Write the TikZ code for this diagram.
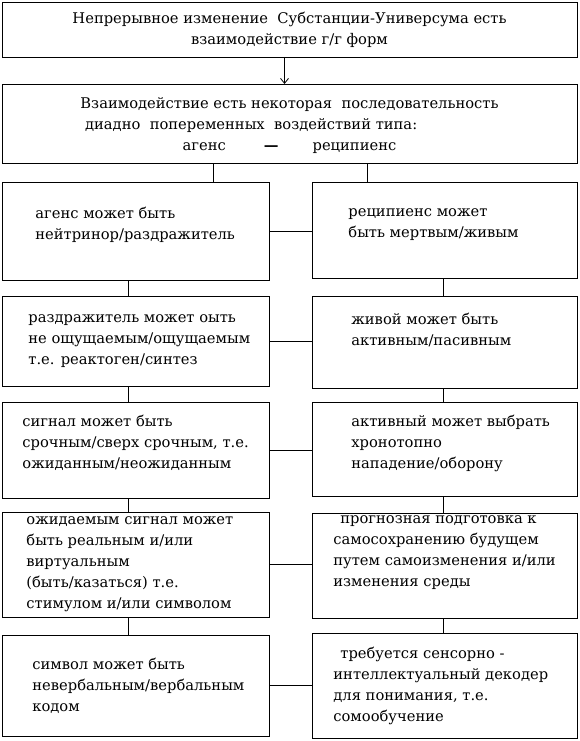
\documentclass[tikz,border=0pt]{standalone}
\usepackage{fontspec}
\setmainfont{DejaVu Serif}
\newfontfamily\boxserif{DejaVu Serif}
\usetikzlibrary{arrows.meta,positioning,calc}
\newcommand{\boxfont}{\boxserif\fontsize{14.7}{21}\selectfont}
\tikzset{
  every picture/.style={line width=0.8pt},
  box/.style={draw,rectangle,anchor=north west,inner sep=0pt,outer sep=0pt},
  lbox/.style={box,minimum width=267pt},
  rbox/.style={box,minimum width=265pt},
  txt/.style={align=left,inner sep=0pt,anchor=west},
}

\begin{document}
\begin{tikzpicture}[x=1pt,y=-1pt,every node/.style={font=\boxfont}]
  \useasboundingbox (0,0) rectangle (580,741);
  \node[box,minimum width=575pt,minimum height=55pt,align=center] (top) at (2,2)
    {Непрерывное изменение~ Субстанции-Универсума есть\\взаимодействие г/г форм};
  \node[box,minimum width=575pt,minimum height=79pt,align=center] (inter) at (2,84)
    {\begin{tabular}[b]{@{}l@{}}Взаимодействие есть некоторая~ последовательность\\
      \ диадно~ попеременных~ воздействий типа:\end{tabular}\\
      агенс\hspace{38pt}\textbf{—}\hspace{34pt}реципиенс};
  \node[lbox,minimum height=98pt] (a1) at (2,182) {};
  \node[rbox,minimum height=96pt] (b1) at (312,182) {};
  \node[lbox,minimum height=90pt] (a2) at (2,296) {};
  \node[rbox,minimum height=92pt] (b2) at (312,296) {};
  \node[lbox,minimum height=96pt] (a3) at (2,402) {};
  \node[rbox,minimum height=94pt] (b3) at (312,402) {};
  \node[lbox,minimum height=105pt] (a4) at (2,512) {};
  \node[rbox,minimum height=105pt] (b4) at (312,513) {};
  \node[lbox,minimum height=101pt] (a5) at (2,635) {};
  \node[rbox,minimum height=105pt] (b5) at (312,633) {};
  \node[txt,right=33pt of a1.west,yshift=6pt] (ta1) {агенс может быть\\нейтринор/раздражитель};
  \node[txt,right=36pt of b1.west,yshift=5pt] (tb1) {реципиенс может\\быть мертвым/живым};
  \node[txt,right=26pt of a2.west] (ta2)
    {раздражитель может оыть\\не ощущаемым/ощущаемым\\т.е. реактоген/синтез};
  \node[txt,right=39pt of b2.west,yshift=12pt] (tb2) {живой может быть\\активным/пасивным};
  \node[txt,right=20pt of a3.west,yshift=7pt] (ta3)
    {сигнал может быть\\срочным/сверх срочным, т.е.\\ожиданным/неожиданным};
  \node[txt,right=39pt of b3.west,yshift=6pt] (tb3)
    {активный может выбрать\\хронотопно\\нападение/оборону};
  \node[txt,right=24pt of a4.west] (ta4)
    {ожидаемым сигнал может\\быть реальным и/или\\виртуальным\\(быть/казаться) т.е.\\стимулом и/или символом};
  \node[txt,right=21pt of b4.west,yshift=13pt] (tb4)
    {\hspace*{7pt}прогнозная подготовка к\\самосохранению будущем\\путем самоизменения и/или\\изменения среды};
  \node[txt,right=30pt of a5.west] (ta5)
    {символ может быть\\невербальным/вербальным\\кодом};
  \node[txt,right=21pt of b5.west] (tb5)
    {\hspace*{7pt}требуется сенсорно -\\интеллектуальный декодер\\для понимания, т.е.\\сомообучение};
  \coordinate (ja) at (213,0);
  \coordinate (jb) at (367,0);
  \coordinate (jl) at (128,0);
  \coordinate (jr) at (443,0);
  \draw[-{Straight Barb[length=5pt,width=8pt]}] ($(top.south)+(-5,0)$) -- ($(inter.north)+(-5,0)$);
  \draw (inter.south -| ja) -- (a1.north -| ja);
  \draw (inter.south -| jb) -- (b1.north -| jb);
  \foreach \i/\j in {1/2,2/3,3/4,4/5} {
    \draw (a\i.south -| jl) -- (a\j.north -| jl);
    \draw (b\i.south -| jr) -- (b\j.north -| jr);
  }
  \foreach \i in {1,...,5}
    \draw (a\i.east) -- (a\i.east -| b\i.west);
\end{tikzpicture}
\end{document}
